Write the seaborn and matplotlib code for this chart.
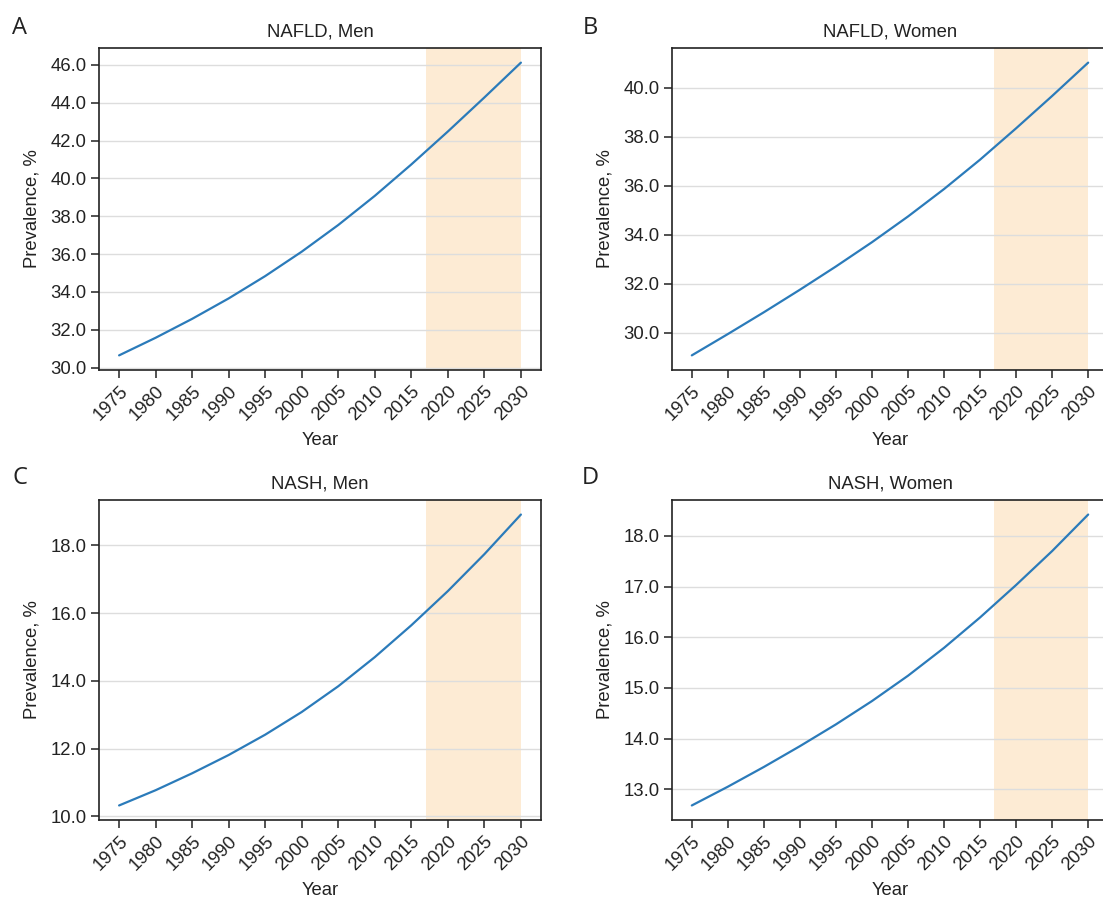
import numpy as np
import pandas as pd
import seaborn as sns
import matplotlib
matplotlib.use('Agg')
from matplotlib import pyplot as plt
from matplotlib.ticker import MultipleLocator, FormatStrFormatter

# values (5-year steps)
years = [1975, 1980, 1985, 1990, 1995, 2000, 2005, 2010, 2015, 2020, 2025, 2030]
nafld_men = [30.65, 31.58, 32.58, 33.66, 34.84, 36.13, 37.54, 39.08, 40.74, 42.48, 44.28, 46.12]
nafld_women = [29.08, 29.95, 30.84, 31.76, 32.71, 33.70, 34.75, 35.87, 37.07, 38.35, 39.67, 41.03]
nash_men = [10.32, 10.77, 11.27, 11.81, 12.41, 13.08, 13.84, 14.70, 15.64, 16.65, 17.74, 18.91]
nash_women = [12.68, 13.05, 13.44, 13.85, 14.28, 14.74, 15.24, 15.79, 16.39, 17.03, 17.70, 18.42]

projection_start = 2017
projection_end = 2030

panel_letters = ['A', 'B', 'C', 'D']
panel_titles = ['NAFLD, Men', 'NAFLD, Women', 'NASH, Men', 'NASH, Women']
panel_series = [nafld_men, nafld_women, nash_men, nash_women]
ytick_steps = [2, 2, 2, 1]

sns.set_theme(style='ticks')
plt.rcParams['font.family'] = ['Liberation Sans', 'DejaVu Sans']
plt.rcParams['axes.edgecolor'] = '#222222'
plt.rcParams['axes.linewidth'] = 1.2
plt.rcParams['xtick.color'] = '#222222'
plt.rcParams['ytick.color'] = '#222222'
plt.rcParams['text.color'] = '#222222'
plt.rcParams['axes.labelcolor'] = '#222222'

W, H = 1103, 897
fig = plt.figure(figsize=(W / 100, H / 100), dpi=100)

# axes boxes in pixels: left, top, right, bottom
# (right panels run past the figure edge, as in the source image)
boxes = [(99, 48, 541, 370), (672, 48, 1108, 370),
         (99, 500, 541, 820), (672, 500, 1108, 820)]
letter_pos = [(12, 34), (583, 34), (12, 484), (582, 484)]

line_color = '#2b7bba'
shade_color = '#fdebd4'
fs = 13.3

for i, (l, t, r, b) in enumerate(boxes):
    ax = fig.add_axes([l / W, 1 - b / H, (r - l) / W, (b - t) / H])
    df = pd.DataFrame({'Year': years, 'Prevalence': panel_series[i]})
    ax.axvspan(projection_start, projection_end, color=shade_color, lw=0, zorder=0)
    sns.lineplot(data=df, x='Year', y='Prevalence', ax=ax, color=line_color, linewidth=1.6)
    ax.set_axisbelow(True)
    ax.grid(axis='y', color='#dddddd', linewidth=1.0)
    ax.grid(axis='x', visible=False)

    ax.set_xticks(years)
    ax.yaxis.set_major_locator(MultipleLocator(ytick_steps[i]))
    ax.yaxis.set_major_formatter(FormatStrFormatter('%.1f'))
    ax.tick_params(axis='both', labelsize=fs, length=6, width=1.1, pad=3)
    plt.setp(ax.get_xticklabels(), rotation=45, ha='right', va='top', rotation_mode='anchor')

    ax.set_title(panel_titles[i], fontsize=fs, pad=8)
    ax.set_xlabel('Year', fontsize=fs, labelpad=6)
    ax.set_ylabel('Prevalence, %', fontsize=fs, labelpad=7)

    fig.text(letter_pos[i][0] / W, 1 - letter_pos[i][1] / H, panel_letters[i],
             fontsize=17, family=['Open Sans', 'DejaVu Sans'], ha='left', va='baseline')

fig.savefig('out.png', dpi=100)
